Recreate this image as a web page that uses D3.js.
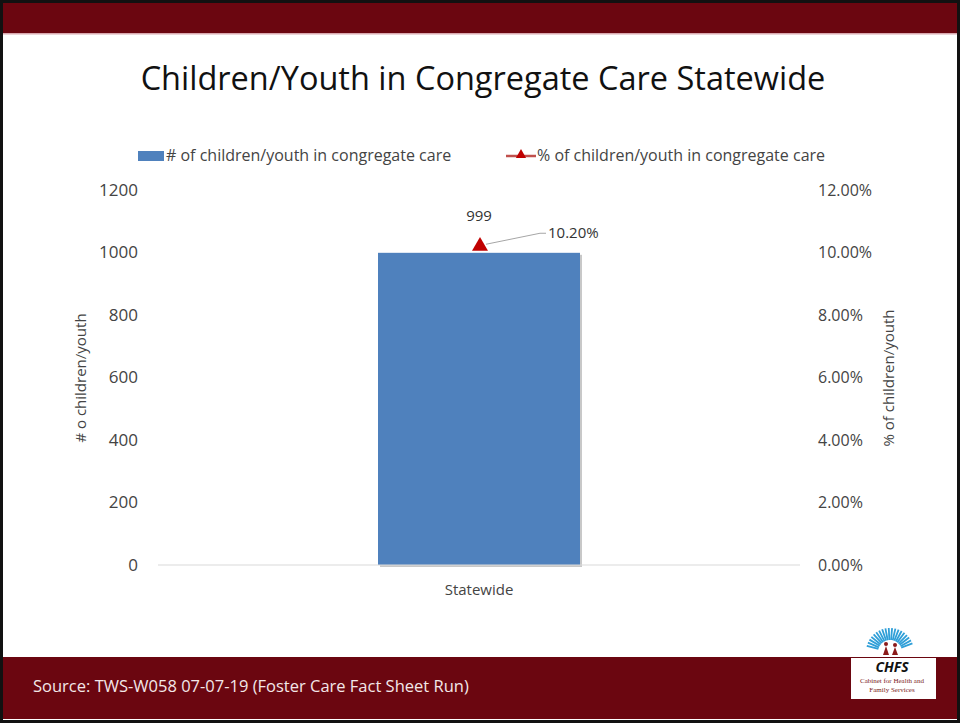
<!DOCTYPE html>
<html>
<head>
<meta charset="utf-8">
<title>Children/Youth in Congregate Care Statewide</title>
<script src="https://cdn.jsdelivr.net/npm/d3@7/dist/d3.min.js"></script>
<style>
  body { margin: 0; background: #fff; }
  text { font-family: "Open Sans", "Liberation Sans", sans-serif; }
</style>
</head>
<body>
<div id="slide"></div>
<script>
// chart data
const categories = ["Statewide"];
const countValues = [999];
const pctValues = [0.102];
const countTicks = [0, 200, 400, 600, 800, 1000, 1200];
const pctTicks = [0, 0.02, 0.04, 0.06, 0.08, 0.10, 0.12];

const W = 960, H = 723;
const maroon = "#6b0610";

const svg = d3.select("#slide").append("svg")
    .attr("width", W).attr("height", H);

// slide frame, header and footer bands
svg.append("rect").attr("width", W).attr("height", H).attr("fill", "#111");
svg.append("rect").attr("x", 3).attr("y", 3).attr("width", W - 6).attr("height", H - 6).attr("fill", "#fff");
svg.append("rect").attr("x", 3).attr("y", 3).attr("width", W - 6).attr("height", 30).attr("fill", maroon);
svg.append("rect").attr("x", 3).attr("y", 33).attr("width", W - 6).attr("height", 1.5).attr("fill", "#d9a9b0");
svg.append("rect").attr("x", 3).attr("y", 657).attr("width", W - 6).attr("height", 62).attr("fill", maroon);

svg.append("text")
    .attr("x", 483).attr("y", 90)
    .attr("text-anchor", "middle")
    .style("font-size", "32.5px").attr("fill", "#111")
    .text("Children/Youth in Congregate Care Statewide");

svg.append("text")
    .attr("x", 33).attr("y", 692)
    .style("font-size", "16.5px").attr("fill", "#f3e6e8")
    .text("Source: TWS-W058 07-07-19 (Foster Care Fact Sheet Run)");

// plot area
const plot = { left: 158, right: 800, top: 190, bottom: 565 };

const x = d3.scaleBand().domain(categories)
    .range([plot.left, plot.right]).paddingInner(0.68).paddingOuter(0.34);
const yL = d3.scaleLinear().domain([0, 1200]).range([plot.bottom, plot.top]);
const yR = d3.scaleLinear().domain([0, 0.12]).range([plot.bottom, plot.top]);

const g = svg.append("g");

// left axis
const leftAxis = g.append("g")
    .attr("transform", `translate(${plot.left - 20},0)`)
    .call(d3.axisLeft(yL).tickValues(countTicks).tickFormat(d3.format("d")).tickSize(0).tickPadding(0));
leftAxis.select(".domain").remove();
leftAxis.selectAll("text").style("font-size", "17px").attr("fill", "#444");

// right axis
const rightAxis = g.append("g")
    .attr("transform", `translate(${plot.right + 18},0)`)
    .call(d3.axisRight(yR).tickValues(pctTicks).tickFormat(d3.format(".2%")).tickSize(0).tickPadding(0));
rightAxis.select(".domain").remove();
rightAxis.selectAll("text").style("font-size", "16px").attr("fill", "#444");

// bars with a light shadow
const bw = 202;
g.selectAll(".shadow").data(categories).join("rect")
    .attr("x", d => x(d) + x.bandwidth() / 2 - bw / 2 + 2)
    .attr("y", (d, i) => yL(countValues[i]) + 2)
    .attr("width", bw)
    .attr("height", (d, i) => yL(0) - yL(countValues[i]))
    .attr("fill", "#c8c8c8");
g.selectAll(".bar").data(categories).join("rect")
    .attr("x", d => x(d) + x.bandwidth() / 2 - bw / 2)
    .attr("y", (d, i) => yL(countValues[i]))
    .attr("width", bw)
    .attr("height", (d, i) => yL(0) - yL(countValues[i]))
    .attr("fill", "#4f81bd");

// baseline
g.append("line")
    .attr("x1", plot.left).attr("x2", plot.right)
    .attr("y1", yL(0)).attr("y2", yL(0))
    .attr("stroke", "#d9d9d9").attr("stroke-width", 1.2);

// category labels
g.selectAll(".cat").data(categories).join("text")
    .attr("x", d => x(d) + x.bandwidth() / 2)
    .attr("y", plot.bottom + 30)
    .attr("text-anchor", "middle")
    .style("font-size", "15px").attr("fill", "#444")
    .text(d => d);

// bar value labels
g.selectAll(".val").data(categories).join("text")
    .attr("x", d => x(d) + x.bandwidth() / 2)
    .attr("y", (d, i) => yL(countValues[i]) - 32)
    .attr("text-anchor", "middle")
    .style("font-size", "15px").attr("fill", "#333")
    .text((d, i) => countValues[i]);

// percent markers
const tri = d3.symbol().type(d3.symbolTriangle).size(110);
categories.forEach((c, i) => {
    const cx = x(c) + x.bandwidth() / 2 + 1;
    const cy = yR(pctValues[i]);
    g.append("polyline")
        .attr("points", `${cx + 6},${cy - 2} ${cx + 60},${cy - 13} ${cx + 66},${cy - 13}`)
        .attr("fill", "none").attr("stroke", "#a6a6a6").attr("stroke-width", 1);
    g.append("path")
        .attr("d", tri)
        .attr("transform", `translate(${cx},${cy})`)
        .attr("fill", "#c00000");
    g.append("text")
        .attr("x", cx + 68).attr("y", cy - 8)
        .style("font-size", "15px").attr("fill", "#333")
        .text(d3.format(".2%")(pctValues[i]));
});

// axis titles
svg.append("text")
    .attr("transform", `translate(86,378) rotate(-90)`)
    .attr("text-anchor", "middle")
    .style("font-size", "15px").attr("fill", "#444")
    .text("# o children/youth");
svg.append("text")
    .attr("transform", `translate(894,378) rotate(-90)`)
    .attr("text-anchor", "middle")
    .style("font-size", "15px").attr("fill", "#444")
    .text("% of children/youth");

// legend
const legend = svg.append("g").attr("transform", "translate(138,156)");
legend.append("rect").attr("x", 0).attr("y", -5).attr("width", 26).attr("height", 10).attr("fill", "#4f81bd");
legend.append("text").attr("x", 28).attr("y", 5).style("font-size", "16px").attr("fill", "#444")
    .text("# of children/youth in congregate care");
legend.append("line").attr("x1", 368).attr("x2", 398).attr("y1", 0).attr("y2", 0)
    .attr("stroke", "#c0504d").attr("stroke-width", 2.5);
legend.append("path").attr("d", d3.symbol().type(d3.symbolTriangle).size(45))
    .attr("transform", "translate(383,-1)").attr("fill", "#c00000");
legend.append("text").attr("x", 399).attr("y", 5).style("font-size", "16px").attr("fill", "#444")
    .text("% of children/youth in congregate care");

// logo
const logo = svg.append("g");
logo.append("rect").attr("x", 851).attr("y", 658).attr("width", 85).attr("height", 41).attr("fill", "#fff");
const rays = d3.range(-75, 76, 8);
logo.selectAll(".ray").data(rays).join("line")
    .attr("x1", d => 890 + 12 * Math.sin(d * Math.PI / 180))
    .attr("y1", d => 652 - 12 * Math.cos(d * Math.PI / 180))
    .attr("x2", d => 890 + 24 * Math.sin(d * Math.PI / 180))
    .attr("y2", d => 652 - 24 * Math.cos(d * Math.PI / 180))
    .attr("stroke", "#2f9fd8").attr("stroke-width", 1.8);
// two little figures
[[886, 0], [895, 1]].forEach(([fx, k]) => {
    logo.append("circle").attr("cx", fx).attr("cy", 644 + k).attr("r", 2).attr("fill", "#8b1a1a");
    logo.append("path")
        .attr("d", `M${fx - 3},${655} L${fx},${646 + k} L${fx + 3},${655} Z`)
        .attr("fill", "#8b1a1a");
});
logo.append("text").attr("x", 892).attr("y", 672).attr("text-anchor", "middle")
    .style("font-size", "14px").style("font-weight", "bold").style("font-style", "italic")
    .attr("fill", "#111").text("CHFS");
logo.append("text").attr("x", 892).attr("y", 683).attr("text-anchor", "middle")
    .style("font-size", "7px").style("font-family", "Liberation Serif, serif")
    .attr("fill", "#7a1a22").text("Cabinet for Health and");
logo.append("text").attr("x", 892).attr("y", 692).attr("text-anchor", "middle")
    .style("font-size", "7px").style("font-family", "Liberation Serif, serif")
    .attr("fill", "#7a1a22").text("Family Services");
</script>
</body>
</html>
